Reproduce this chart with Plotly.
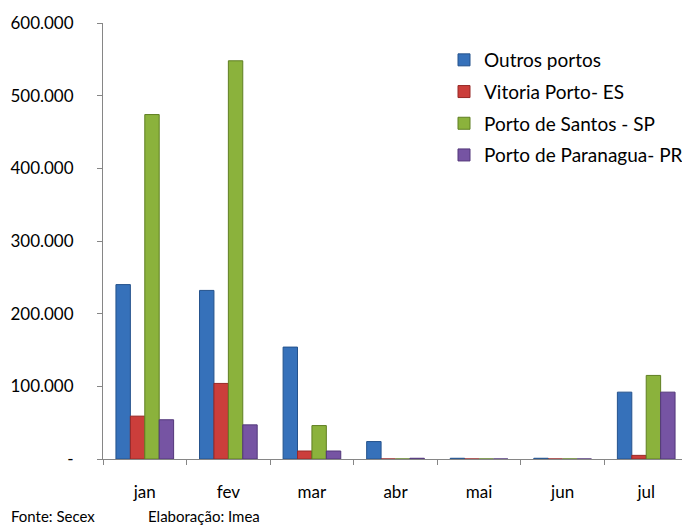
import plotly.graph_objects as go

months = ["jan", "fev", "mar", "abr", "mai", "jun", "jul"]
outros = [240000, 232000, 154000, 24000, 1000, 1000, 92000]
vitoria = [59000, 104000, 11000, 0, 0, 0, 5000]
santos = [474000, 548000, 46000, 0, 0, 0, 115000]
paranagua = [54000, 47000, 11000, 1000, 0, 0, 92000]

series_names = ["Outros portos", "Vitoria Porto- ES", "Porto de Santos - SP", "Porto de Paranagua- PR"]
series_vals = [outros, vitoria, santos, paranagua]
colors = ["#3671BA", "#CB3E3B", "#8BB23C", "#7654A3"]
edges = ["#24528C", "#972826", "#5F7F22", "#52377A"]

ytickvals = [0, 100000, 200000, 300000, 400000, 500000, 600000]
yticktext = ["-", "100.000", "200.000", "300.000", "400.000", "500.000", "600.000"]

fig = go.Figure()
for i, (name, vals, c, e) in enumerate(zip(series_names, series_vals, colors, edges)):
    fig.add_trace(go.Bar(x=months, y=vals, name=name, legendgroup=f"g{i}",
                         marker=dict(color=c, line=dict(color=e, width=1))))

font_family = "Lato, 'Open Sans', sans-serif"
# page body has an 8px margin; figure is sized to compensate
W, H = 682, 520
L, R, T, B = 95, 2, 15, 69
PW, PH = W - L - R, H - T - B

fig.update_layout(
    width=W, height=H,
    margin=dict(l=L, r=R, t=T, b=B),
    paper_bgcolor="white", plot_bgcolor="white",
    barmode="group", bargap=0.31, bargroupgap=0,
    font=dict(family=font_family, size=17, color="#000000"),
    showlegend=True,
    legend=dict(x=(436 - L) / PW, y=(H - B - 33) / PH, xanchor="left", yanchor="top",
                font=dict(size=19), itemwidth=30, tracegroupgap=4,
                traceorder="grouped", bgcolor="rgba(0,0,0,0)"),
    xaxis=dict(type="category", showline=True, linecolor="#868686", linewidth=1,
               ticks="outside", tickson="boundaries", ticklen=5, tickcolor="#868686",
               showgrid=False, ticklabelstandoff=18, tickfont=dict(size=17)),
    yaxis=dict(range=[0, 600000], tickvals=ytickvals, ticktext=yticktext,
               showline=True, linecolor="#868686", linewidth=1,
               ticks="outside", ticklen=5, tickcolor="#868686",
               showgrid=False, zeroline=False, ticklabelstandoff=20,
               tickfont=dict(size=17)),
)
fig.add_annotation(text="Fonte: Secex",
                   xref="paper", yref="paper", x=-94 / PW, y=-57 / PH,
                   xanchor="left", yanchor="middle", showarrow=False,
                   font=dict(size=15, family=font_family))
fig.add_annotation(text="Elaboração: Imea",
                   xref="paper", yref="paper", x=43 / PW, y=-57 / PH,
                   xanchor="left", yanchor="middle", showarrow=False,
                   font=dict(size=15, family=font_family))
fig.write_html("out.html")
